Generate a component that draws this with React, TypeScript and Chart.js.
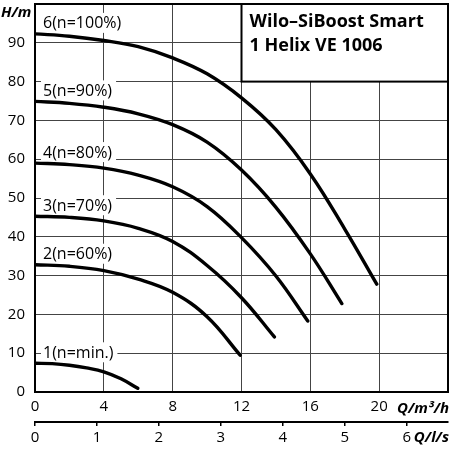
import { useEffect, useRef } from "react"
import { Chart, registerables } from "chart.js"

Chart.register(...registerables)

// pump curves: Q in m³/h, H in m
const Q6 = [0, 2, 4, 6, 8, 10, 12, 14, 16, 18, 19.86]
const H6 = [92.3, 91.7, 90.6, 89.0, 86.1, 82.0, 75.8, 67.6, 56.2, 42.0, 27.8]
const Q5 = [0, 2, 4, 6, 8, 10, 12, 14, 16, 17.83]
const H5 = [74.9, 74.4, 73.4, 71.7, 68.9, 64.4, 57.2, 47.6, 35.6, 22.8]
const Q4 = [0, 2, 4, 6, 8, 10, 12, 14, 15.85]
const H4 = [59, 58.6, 57.7, 55.9, 52.9, 47.8, 39.8, 29.9, 18.3]
const Q3 = [0, 2, 4, 6, 8, 10, 12, 13.91]
const H3 = [45.3, 45.0, 44.1, 42.2, 38.8, 32.6, 24.3, 14.2]
const Q2 = [0, 2, 4, 6, 8, 10, 11.92]
const H2 = [32.8, 32.4, 31.3, 29.1, 25.7, 19.4, 9.5]
const Q1 = [0, 1, 2, 3, 4, 5, 5.97]
const H1 = [7.4, 7.3, 6.9, 6.2, 5.2, 3.4, 0.95]

const curveLabels = ["6(n=100%)", "5(n=90%)", "4(n=80%)", "3(n=70%)", "2(n=60%)", "1(n=min.)"]
const curveQ = [Q6, Q5, Q4, Q3, Q2, Q1]
const curveH = [H6, H5, H4, H3, H2, H1]

const titleLines = ["Wilo–SiBoost Smart", "1 Helix VE 1006"]
const yTitle = "H/m"
const xTitle = "Q/m³/h"
const x2Title = "Q/l/s"

const Q_MAX = 24
const H_MAX = 100
const M3H_PER_LS = 3.6

const FONT = "'Open Sans', 'DejaVu Sans', sans-serif"

const overlay = {
  id: "overlay",
  beforeDatasetsDraw(chart: any) {
    const { ctx } = chart
    const x = chart.scales.x
    const y = chart.scales.y
    ctx.save()

    // title box
    const l = x.getPixelForValue(12)
    const r = x.getPixelForValue(24)
    const t = y.getPixelForValue(100)
    const b = y.getPixelForValue(80)
    ctx.fillStyle = "#fff"
    ctx.fillRect(l, t, r - l, b - t)
    ctx.strokeStyle = "#000"
    ctx.lineWidth = 2
    ctx.strokeRect(l, t, r - l, b - t)
    ctx.fillStyle = "#000"
    ctx.font = `bold 18px ${FONT}`
    ctx.textAlign = "left"
    ctx.textBaseline = "alphabetic"
    ctx.fillText(titleLines[0], l + 8, t + 23)
    ctx.fillText(titleLines[1], l + 8, t + 47)

    // curve labels on white
    ctx.font = `16px ${FONT}`
    ctx.textBaseline = "middle"
    chart.data.datasets.forEach((ds: any, i: number) => {
      const first = ds.data[0]
      const px = x.getPixelForValue(0) + 8
      const py = y.getPixelForValue(first.y) - 11
      const w = ctx.measureText(curveLabels[i]).width
      ctx.fillStyle = "#fff"
      ctx.fillRect(px - 2, py - 10, w + 6, 20)
      ctx.fillStyle = "#000"
      ctx.fillText(curveLabels[i], px, py + 1)
    })
    ctx.restore()
  },
  afterDraw(chart: any) {
    const { ctx, chartArea } = chart
    ctx.save()
    ctx.strokeStyle = "#000"
    ctx.lineWidth = 2
    ctx.strokeRect(chartArea.left, chartArea.top, chartArea.right - chartArea.left, chartArea.bottom - chartArea.top)

    ctx.fillStyle = "#000"
    ctx.font = `italic bold 15px ${FONT}`
    ctx.textBaseline = "alphabetic"
    ctx.textAlign = "left"
    ctx.fillText(yTitle, 1, 17)
    ctx.textAlign = "right"
    ctx.fillText(xTitle, 449, 413)
    ctx.fillText(x2Title, 449, 442)
    ctx.restore()
  },
}

const noPad = (s: any) => {
  s.paddingTop = 0
  s.paddingBottom = 0
  s.paddingLeft = 0
  s.paddingRight = 0
}

export default function App() {
  const chartRef = useRef<HTMLCanvasElement>(null)
  const chartInstance = useRef<Chart | null>(null)

  useEffect(() => {
    if (!chartRef.current) return
    if (chartInstance.current) chartInstance.current.destroy()
    const ctx = chartRef.current.getContext("2d")
    if (!ctx) return

    const tickFont = { family: FONT, size: 15 }

    chartInstance.current = new Chart(ctx, {
      type: "line",
      data: {
        datasets: curveLabels.map((label, i) => ({
          label,
          data: curveQ[i].map((q, j) => ({ x: q, y: curveH[i][j] })),
          borderColor: "#000",
          borderWidth: 3.4,
          borderCapStyle: "round",
          pointRadius: 0,
          fill: false,
          tension: 0.4,
        })),
      },
      options: {
        responsive: true,
        maintainAspectRatio: false,
        animation: false,
        layout: { padding: { top: 4, right: 2, left: 0, bottom: 0 } },
        scales: {
          x: {
            type: "linear",
            position: "bottom",
            min: 0,
            max: Q_MAX,
            weight: 0,
            ticks: {
              stepSize: 4,
              autoSkip: false,
              maxRotation: 0,
              padding: 6,
              color: "#000",
              font: tickFont,
              callback: (v: any) => (v === Q_MAX ? "" : String(v)),
            },
            grid: { color: "#444", lineWidth: 1, drawTicks: false },
            border: { display: false },
            afterFit: (s: any) => {
              s.height = 30
              noPad(s)
            },
          },
          x2: {
            type: "linear",
            position: "bottom",
            min: 0,
            max: Q_MAX / M3H_PER_LS,
            weight: 1,
            ticks: {
              stepSize: 1,
              includeBounds: false,
              autoSkip: false,
              maxRotation: 0,
              padding: 3,
              color: "#000",
              font: tickFont,
            },
            grid: { drawOnChartArea: false, drawTicks: true, tickLength: 4, color: "#000", lineWidth: 1.5 },
            border: { display: true, color: "#000", width: 2 },
            afterFit: (s: any) => {
              s.height = 28
              noPad(s)
            },
          },
          y: {
            type: "linear",
            min: 0,
            max: H_MAX,
            ticks: {
              stepSize: 10,
              padding: 10,
              color: "#000",
              font: tickFont,
              callback: (v: any) => (v === H_MAX ? "" : String(v)),
            },
            grid: { color: "#444", lineWidth: 1, drawTicks: false },
            border: { display: false },
            afterFit: (s: any) => {
              s.width = 35
              noPad(s)
            },
          },
        },
        plugins: {
          legend: { display: false },
          tooltip: { enabled: false },
        },
      },
      plugins: [overlay],
    } as any)

    return () => {
      if (chartInstance.current) {
        chartInstance.current.destroy()
        chartInstance.current = null
      }
    }
  }, [])

  return (
    <div style={{ position: "fixed", left: 0, top: 0, width: 450, height: 450, background: "#fff" }}>
      <canvas ref={chartRef} />
    </div>
  )
}
